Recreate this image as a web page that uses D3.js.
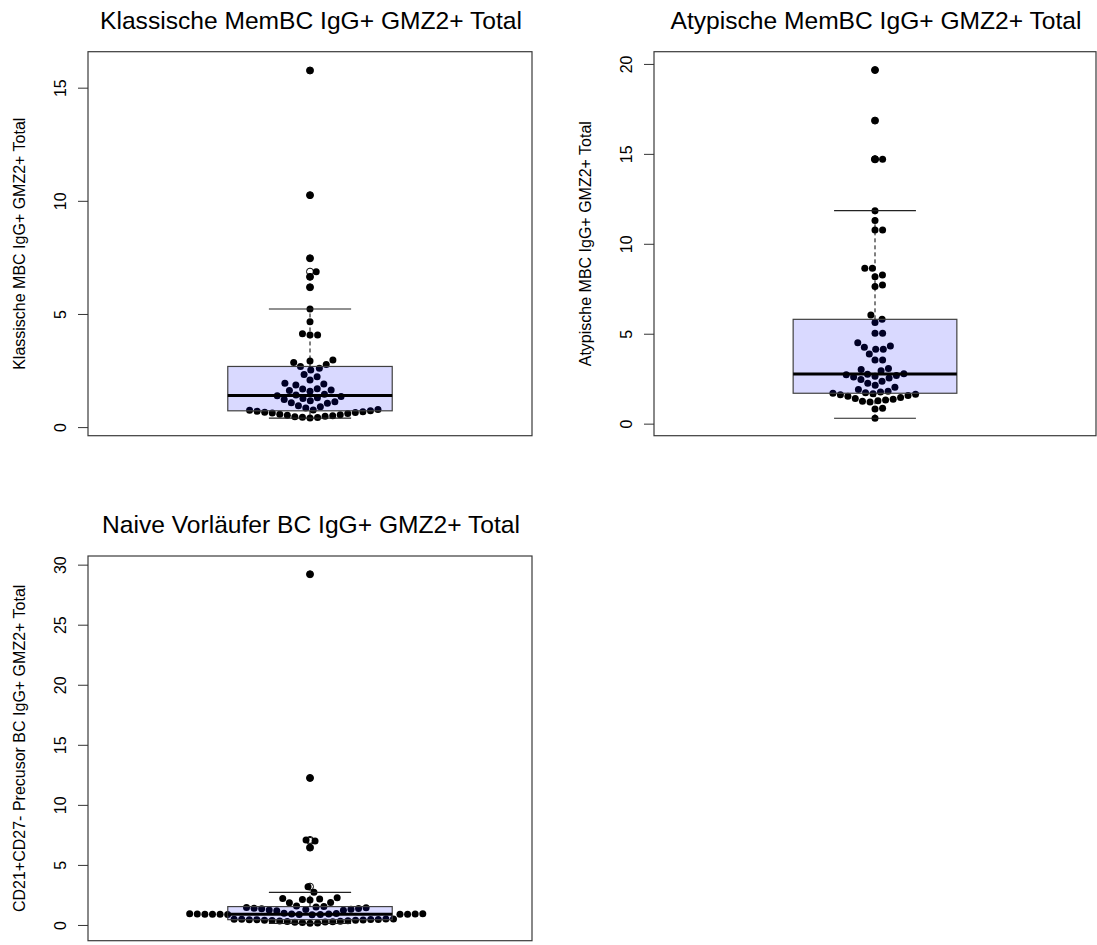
<!DOCTYPE html>
<html>
<head>
<meta charset="utf-8">
<script src="https://cdn.jsdelivr.net/npm/d3@7"></script>
<style>
  body { margin: 0; background: #fff; }
  svg { display: block; }
  text { font-family: "Liberation Sans", Arial, sans-serif; fill: #000; }
</style>
</head>
<body>
<svg id="chart" width="1097" height="945"></svg>
<script>
// ---- data -------------------------------------------------------------
const panelTitles = [
  "Klassische MemBC IgG+ GMZ2+ Total",
  "Atypische MemBC IgG+ GMZ2+ Total",
  "Naive Vorläufer BC IgG+ GMZ2+ Total"
];
const axisLabels = [
  "Klassische MBC IgG+ GMZ2+ Total",
  "Atypische MBC IgG+ GMZ2+ Total",
  "CD21+CD27- Precusor BC IgG+ GMZ2+ Total"
];

const klassischeValues = [
  0.40, 0.42, 0.44, 0.46, 0.48, 0.50, 0.52, 0.55, 0.57, 0.60, 0.62, 0.64, 0.66, 0.68, 0.70, 0.72,
  0.74, 0.76, 0.78,
  0.84, 0.90, 0.94, 1.05, 1.08, 1.12, 1.16, 1.22, 1.26, 1.30, 1.35, 1.38,
  1.42, 1.45, 1.58, 1.62, 1.64, 1.68, 1.70, 1.86, 1.90, 1.94, 2.08, 2.22, 2.33, 2.52, 2.60,
  2.68,
  2.77, 2.86, 2.92, 2.96, 4.07, 4.07, 4.12, 4.66, 5.22, 6.18, 6.64, 6.87, 7.46, 10.25, 15.76
];
// boxplot statistics: lower whisker, lower hinge, median, upper hinge, upper whisker
const klassischeStats = [0.40, 0.72, 1.40, 2.68, 5.22];
const klassischeTicks = [0, 5, 10, 15];
const klassischeDomain = [-0.38, 16.59];

const atypischeValues = [
  0.30, 0.82, 0.86, 1.20, 1.24, 1.28, 1.32, 1.36, 1.40, 1.46, 1.52, 1.56, 1.60, 1.63, 1.66,
  1.69,
  1.72, 1.76, 1.80, 1.90, 2.02, 2.14, 2.24, 2.36, 2.46, 2.54, 2.60, 2.64, 2.68, 2.72,
  2.74, 2.78,
  2.94, 3.01, 3.06, 3.54, 3.54, 3.87, 4.14, 4.14, 4.25, 4.32, 4.50, 5.02, 5.02, 5.62,
  5.80,
  6.04, 7.62, 7.71, 8.17, 8.27, 8.64, 8.64, 10.77, 10.77, 11.29, 11.84, 14.70, 14.70, 16.85, 19.66
];
const atypischeStats = [0.30, 1.69, 2.76, 5.80, 11.84];
const atypischeTicks = [0, 5, 10, 15, 20];
const atypischeDomain = [-0.67, 20.68];

const naiveValues = [
  0.14, 0.17, 0.20, 0.22, 0.25, 0.27, 0.29, 0.31, 0.33, 0.35, 0.37, 0.39, 0.40, 0.42, 0.43, 0.44,
  0.45, 0.46, 0.47, 0.48, 0.49, 0.50,
  0.86, 0.87, 0.88, 0.88, 0.89, 0.89, 0.90, 0.90, 0.90, 0.91, 0.91, 0.92, 0.92, 0.93, 0.94,
  0.95, 0.97,
  1.18, 1.22, 1.25, 1.28, 1.31, 1.34, 1.37, 1.40, 1.43, 1.46, 1.50, 1.53, 1.58,
  1.84, 1.88, 2.08, 2.12, 2.16, 2.20, 2.26,
  2.72, 3.19, 6.44, 7.00, 7.08, 12.24, 29.20
];
const naiveStats = [0.14, 0.44, 0.90, 1.53, 2.72];
const naiveTicks = [0, 5, 10, 15, 20, 25, 30];
const naiveDomain = [-1.31, 30.72];

// ---- layout -------------------------------------------------------------
const GX = 7.6;   // horizontal swarm spacing (px)
const GY = 9.0;   // vertical swarm spacing (px)
const DOT_R = 3.5;

const panels = [
  { title: panelTitles[0], ylab: axisLabels[0], values: klassischeValues, stats: klassischeStats,
    ticks: klassischeTicks, domain: klassischeDomain, left: 88, right: 532, top: 51.7, bottom: 435.7 },
  { title: panelTitles[1], ylab: axisLabels[1], values: atypischeValues, stats: atypischeStats,
    ticks: atypischeTicks, domain: atypischeDomain, left: 654, right: 1096, top: 51.7, bottom: 435.7 },
  { title: panelTitles[2], ylab: axisLabels[2], values: naiveValues, stats: naiveStats,
    ticks: naiveTicks, domain: naiveDomain, left: 88, right: 532, top: 556, bottom: 940.7 }
];

// Beeswarm "swarm" placement, ascending priority: each point goes to the
// horizontal offset closest to the centre that does not overlap placed points.
function swarmOffsets(values, y) {
  const pts = values.map((v, i) => ({ i, v, u: y(v) / GY, off: 0 }));
  const order = pts.slice().sort((a, b) => a.v - b.v);
  const placed = [];
  order.forEach(p => {
    const near = placed.filter(q => Math.abs(q.u - p.u) < 1);
    if (near.length) {
      const dx = near.map(q => Math.sqrt(1 - (p.u - q.u) ** 2));
      const cands = [0]
        .concat(near.map((q, k) => q.off + dx[k]))
        .concat(near.map((q, k) => q.off - dx[k]));
      let best = 0, bestAbs = Infinity;
      cands.forEach(c => {
        const bad = near.some(q => (p.u - q.u) ** 2 + (c - q.off) ** 2 < 0.999);
        if (!bad && Math.abs(c) < bestAbs) { best = c; bestAbs = Math.abs(c); }
      });
      p.off = best;
    }
    placed.push(p);
  });
  return pts.map(p => p.off * GX);
}

const svg = d3.select("#chart");
svg.append("rect").attr("width", 1097).attr("height", 945).attr("fill", "#fff");

panels.forEach(p => {
  const g = svg.append("g");
  const x = d3.scaleLinear().domain([0.46, 1.54]).range([p.left, p.right]);
  const y = d3.scaleLinear().domain(p.domain).range([p.bottom, p.top]);
  const [wLo, q1, med, q3, wHi] = p.stats;
  const cx = x(1);

  // plot frame
  g.append("rect")
    .attr("x", p.left).attr("y", p.top)
    .attr("width", p.right - p.left).attr("height", p.bottom - p.top)
    .attr("fill", "none").attr("stroke", "#3a3a3a").attr("stroke-width", 1.2);

  // swarm of observations
  const offs = swarmOffsets(p.values, y);
  g.append("g").selectAll("circle")
    .data(p.values)
    .join("circle")
    .attr("cx", (d, i) => cx + offs[i])
    .attr("cy", d => y(d))
    .attr("r", DOT_R)
    .attr("fill", "#000");

  // box (translucent, drawn over the points)
  g.append("rect")
    .attr("x", x(0.8)).attr("y", y(q3))
    .attr("width", x(1.2) - x(0.8)).attr("height", y(q1) - y(q3))
    .attr("fill", "rgba(0,0,255,0.15)")
    .attr("stroke", "#404040").attr("stroke-width", 1.2);

  // whiskers
  [[q3, wHi], [q1, wLo]].forEach(([a, b]) => {
    g.append("line")
      .attr("x1", cx).attr("x2", cx).attr("y1", y(a)).attr("y2", y(b))
      .attr("stroke", "#000").attr("stroke-width", 1)
      .attr("stroke-dasharray", "4,3");
    g.append("line")
      .attr("x1", x(0.9)).attr("x2", x(1.1)).attr("y1", y(b)).attr("y2", y(b))
      .attr("stroke", "#222").attr("stroke-width", 1.2);
  });

  // median
  g.append("line")
    .attr("x1", x(0.8)).attr("x2", x(1.2)).attr("y1", y(med)).attr("y2", y(med))
    .attr("stroke", "#000").attr("stroke-width", 3);

  // outliers
  g.append("g").selectAll("circle")
    .data(p.values.filter(v => v > wHi || v < wLo))
    .join("circle")
    .attr("cx", cx).attr("cy", d => y(d))
    .attr("r", DOT_R)
    .attr("fill", "none").attr("stroke", "#000").attr("stroke-width", 1);

  // y axis
  const axis = g.append("g")
    .attr("transform", `translate(${p.left},0)`)
    .call(d3.axisLeft(y).tickValues(p.ticks).tickSize(10).tickSizeOuter(0).tickFormat(d3.format("d")));
  axis.select(".domain").remove();
  axis.selectAll(".tick line").attr("stroke", "#333").attr("stroke-width", 1);
  axis.selectAll(".tick text")
    .attr("transform", "rotate(-90)")
    .attr("x", 0).attr("y", -22).attr("dy", null)
    .attr("text-anchor", "middle")
    .attr("font-size", 16)
    .attr("fill", "#222");

  // axis title
  const midY = (p.top + p.bottom) / 2;
  g.append("text")
    .attr("transform", `translate(${p.left - 63},${midY}) rotate(-90)`)
    .attr("text-anchor", "middle")
    .attr("font-size", 16)
    .attr("fill", "#222")
    .text(p.ylab);

  // panel title
  g.append("text")
    .attr("x", (p.left + p.right) / 2 + 1)
    .attr("y", p.top - 23)
    .attr("text-anchor", "middle")
    .attr("font-size", 24.6)
    .text(p.title);
});
</script>
</body>
</html>
